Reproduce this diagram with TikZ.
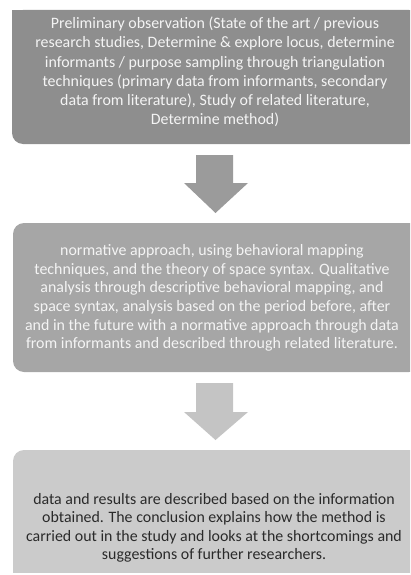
\documentclass[tikz,border=0pt]{standalone}
\usepackage{fontspec}
\setmainfont{Carlito}
\definecolor{boxA}{HTML}{8E8E8E}
\definecolor{boxB}{HTML}{A6A6A6}
\definecolor{boxC}{HTML}{CBCBCB}
\definecolor{arrA}{HTML}{9B9B9B}
\definecolor{arrB}{HTML}{C4C4C4}
\definecolor{txtL}{HTML}{F4F4F4}
\definecolor{txtD}{HTML}{2A2A2A}
\begin{document}
\begin{tikzpicture}[x=1pt,y=-1pt,
  boxtext/.style={align=center,inner sep=0pt,font=\fontsize{15.9}{19.3}\selectfont},
  rc/.style={rounded corners=11pt}]
\useasboundingbox (0,0) rectangle (410,575);
\clip (0,0) rectangle (410,575);
% box 1
\fill[boxA, rc] (12,10) rectangle (420,144);
\fill[boxA] (12,10) rectangle (40,40);
% box 2
\fill[boxB, rc] (13,223) rectangle (420,372);
% box 3
\fill[boxC, rc] (13,450) rectangle (420,600);
\fill[white] (0,573) rectangle (410,575);
% texts
\node[boxtext, text=txtL] (t1) at (215,72) {Preliminary observation (State of the art / previous\\research studies, Determine \& explore locus, determine\\informants / purpose sampling through triangulation\\techniques (primary data from informants, secondary\\data from literature), Study of related literature,\\Determine method)};
\node[boxtext, text=txtL, font=\fontsize{15.9}{18.7}\selectfont] (t2) at (212,298) {normative approach, using behavioral mapping\\techniques, and the theory of space syntax. Qualitative\\analysis through descriptive behavioral mapping, and\\space syntax, analysis based on the period before, after\\and in the future with a normative approach through data\\from informants and described through related literature.};
\node[boxtext, text=txtD, font=\fontsize{15.9}{18.5}\selectfont] (t3) at (214,528) {data and results are described based on the information\\obtained. The conclusion explains how the method is\\carried out in the study and looks at the shortcomings and\\suggestions of further researchers.};
% arrows
\fill[arrA] (196,155) -- (233,155) -- (233,183) -- (248,183) -- (215.5,213) -- (184,183) -- (196,183) -- cycle;
\fill[arrB] (196,383) -- (233,383) -- (233,412) -- (248,412) -- (215.5,440) -- (184,412) -- (196,412) -- cycle;
\end{tikzpicture}
\end{document}
